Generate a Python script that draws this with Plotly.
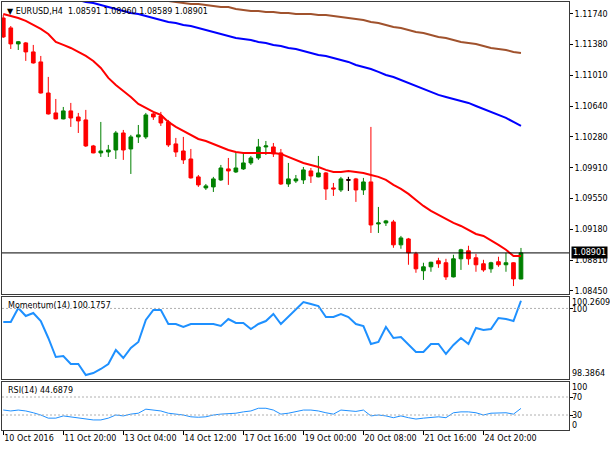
import plotly.graph_objects as go
from plotly.subplots import make_subplots

# H4 bar times (broker has a Sunday 20:00 bar)
session_days = ["10 Oct", "11 Oct", "12 Oct", "13 Oct", "14 Oct", "16 Oct", "17 Oct", "18 Oct",
                "19 Oct", "20 Oct", "21 Oct", "23 Oct", "24 Oct", "25 Oct"]
session_hours = [[12, 16, 20], [0, 4, 8, 12, 16, 20], [0, 4, 8, 12, 16, 20], [0, 4, 8, 12, 16, 20],
                 [0, 4, 8, 12, 16, 20], [20], [0, 4, 8, 12, 16, 20], [0, 4, 8, 12, 16, 20],
                 [0, 4, 8, 12, 16, 20], [0, 4, 8, 12, 16, 20], [0, 4, 8, 12, 16, 20], [20],
                 [0, 4, 8, 12, 16, 20], [0, 4, 8, 12, 16]]
times = [f"{d} {h:02d}:00" for d, hs in zip(session_days, session_hours) for h in hs]

tick_times = ["10 Oct 12:00", "11 Oct 20:00", "13 Oct 04:00", "14 Oct 12:00", "17 Oct 16:00",
              "19 Oct 00:00", "20 Oct 08:00", "21 Oct 16:00", "24 Oct 20:00"]
tick_labels = ["10 Oct 2016", "11 Oct 20:00", "13 Oct 04:00", "14 Oct 12:00", "17 Oct 16:00",
               "19 Oct 00:00", "20 Oct 08:00", "21 Oct 16:00", "24 Oct 20:00"]

opens = [1.11692, 1.11574, 1.11384, 1.11396, 1.11289, 1.11170, 1.10801, 1.10564, 1.10493, 1.10588,
         1.10516, 1.10481, 1.10172, 1.10089, 1.10100, 1.10124, 1.10326, 1.10136, 1.10279, 1.10279,
         1.10552, 1.10528, 1.10457, 1.10196, 1.10112, 1.10017, 1.09804, 1.09673, 1.09685, 1.09768,
         1.09899, 1.09863, 1.09899, 1.09970, 1.10029, 1.10160, 1.10160, 1.10089, 1.09720, 1.09756,
         1.09768, 1.09875, 1.09804, 1.09851, 1.09673, 1.09649, 1.09768, 1.09780, 1.09649, 1.09744,
         1.09245, 1.09257, 1.09269, 1.08997, 1.09067, 1.08890, 1.08689, 1.08736, 1.08807, 1.08784,
         1.08616, 1.08831, 1.08926, 1.08843, 1.08772, 1.08712, 1.08796, 1.08760, 1.08784, 1.08591]
highs = [1.11728, 1.11597, 1.11419, 1.11407, 1.11372, 1.11241, 1.10992, 1.10730, 1.10635, 1.10683,
         1.10564, 1.10600, 1.10184, 1.10457, 1.10184, 1.10350, 1.10362, 1.10303, 1.10421, 1.10564,
         1.10564, 1.10576, 1.10481, 1.10267, 1.10279, 1.10136, 1.09827, 1.09720, 1.09804, 1.09946,
         1.10029, 1.10089, 1.10089, 1.10053, 1.10255, 1.10231, 1.10207, 1.10136, 1.09970, 1.09827,
         1.09922, 1.09910, 1.10053, 1.09863, 1.09732, 1.09804, 1.09804, 1.09792, 1.09792, 1.10398,
         1.09447, 1.09293, 1.09293, 1.09103, 1.09079, 1.08914, 1.08784, 1.08796, 1.08843, 1.08831,
         1.08879, 1.08950, 1.08986, 1.08890, 1.08819, 1.08796, 1.08855, 1.08902, 1.08790, 1.08960]
lows = [1.11455, 1.11324, 1.11312, 1.11182, 1.11150, 1.10795, 1.10545, 1.10488, 1.10488, 1.10398,
        1.10326, 1.10160, 1.10085, 1.10041, 1.10041, 1.10017, 1.10006, 1.09839, 1.10207, 1.10255,
        1.10481, 1.10409, 1.10160, 1.10041, 1.09958, 1.09785, 1.09685, 1.09649, 1.09625, 1.09756,
        1.09709, 1.09851, 1.09887, 1.09946, 1.10006, 1.10065, 1.10041, 1.09709, 1.09685, 1.09732,
        1.09720, 1.09732, 1.09800, 1.09530, 1.09578, 1.09625, 1.09637, 1.09507, 1.09590, 1.09138,
        1.09138, 1.09221, 1.08962, 1.08950, 1.08760, 1.08665, 1.08580, 1.08677, 1.08724, 1.08580,
        1.08610, 1.08699, 1.08760, 1.08677, 1.08677, 1.08665, 1.08736, 1.08677, 1.08507, 1.08589]
closes = [1.11467, 1.11384, 1.11410, 1.11289, 1.11158, 1.10801, 1.10552, 1.10493, 1.10588, 1.10504,
          1.10469, 1.10172, 1.10089, 1.10112, 1.10124, 1.10326, 1.10124, 1.10279, 1.10303, 1.10540,
          1.10516, 1.10445, 1.10184, 1.10100, 1.10006, 1.09792, 1.09709, 1.09697, 1.09780, 1.09910,
          1.09875, 1.09910, 1.09970, 1.10029, 1.10160, 1.10172, 1.10077, 1.09720, 1.09780, 1.09780,
          1.09887, 1.09815, 1.09851, 1.09661, 1.09661, 1.09780, 1.09768, 1.09649, 1.09744, 1.09233,
          1.09257, 1.09281, 1.08997, 1.09079, 1.08902, 1.08712, 1.08736, 1.08790, 1.08772, 1.08616,
          1.08831, 1.08938, 1.08831, 1.08760, 1.08699, 1.08784, 1.08760, 1.08784, 1.08592, 1.08901]

ma_red = [1.11740, 1.11716, 1.11692, 1.11657, 1.11609, 1.11562, 1.11502, 1.11407, 1.11372, 1.11336,
          1.11289, 1.11241, 1.11182, 1.11098, 1.10980, 1.10896, 1.10825, 1.10754, 1.10671, 1.10623,
          1.10576, 1.10540, 1.10457, 1.10398, 1.10350, 1.10303, 1.10255, 1.10231, 1.10196, 1.10160,
          1.10124, 1.10100, 1.10089, 1.10089, 1.10089, 1.10089, 1.10089, 1.10077, 1.10041, 1.10006,
          1.09970, 1.09946, 1.09922, 1.09887, 1.09863, 1.09863, 1.09875, 1.09863, 1.09851, 1.09827,
          1.09804, 1.09768, 1.09709, 1.09661, 1.09602, 1.09530, 1.09459, 1.09400, 1.09352, 1.09305,
          1.09257, 1.09221, 1.09174, 1.09126, 1.09103, 1.09055, 1.08997, 1.08938, 1.08865, 1.08865]
ma_blue = [1.12132, 1.12108, 1.12084, 1.12060, 1.12037, 1.12013, 1.11989, 1.11965, 1.11942, 1.11918,
           1.11906, 1.11882, 1.11870, 1.11847, 1.11823, 1.11799, 1.11775, 1.11752, 1.11740, 1.11716,
           1.11692, 1.11669, 1.11645, 1.11633, 1.11609, 1.11597, 1.11574, 1.11550, 1.11526, 1.11502,
           1.11479, 1.11455, 1.11443, 1.11431, 1.11407, 1.11396, 1.11372, 1.11360, 1.11336, 1.11324,
           1.11300, 1.11276, 1.11253, 1.11241, 1.11217, 1.11193, 1.11170, 1.11134, 1.11110, 1.11086,
           1.11051, 1.11015, 1.10991, 1.10956, 1.10920, 1.10884, 1.10849, 1.10813, 1.10778, 1.10754,
           1.10730, 1.10706, 1.10683, 1.10647, 1.10611, 1.10576, 1.10540, 1.10505, 1.10457, 1.10410]
ma_brown = [1.12120, 1.12108, 1.12096, 1.12084, 1.12072, 1.12060, 1.12049, 1.12037, 1.12025, 1.12013,
            1.12001, 1.11989, 1.11977, 1.11965, 1.11954, 1.11942, 1.11942, 1.11930, 1.11918, 1.11918,
            1.11906, 1.11894, 1.11894, 1.11882, 1.11870, 1.11858, 1.11858, 1.11847, 1.11835, 1.11823,
            1.11823, 1.11799, 1.11787, 1.11775, 1.11775, 1.11764, 1.11764, 1.11752, 1.11752, 1.11740,
            1.11740, 1.11740, 1.11728, 1.11728, 1.11716, 1.11704, 1.11692, 1.11680, 1.11669, 1.11645,
            1.11633, 1.11609, 1.11585, 1.11574, 1.11550, 1.11526, 1.11514, 1.11490, 1.11467, 1.11455,
            1.11431, 1.11407, 1.11396, 1.11384, 1.11360, 1.11336, 1.11324, 1.11312, 1.11289, 1.11277]

momentum = [99.689, 99.689, 100.010, 99.826, 99.895, 99.712, 99.324, 98.889, 98.912, 98.729,
            98.729, 98.478, 98.523, 98.615, 98.729, 99.050, 98.866, 99.095, 99.232, 99.735,
            99.964, 99.964, 99.644, 99.644, 99.575, 99.644, 99.644, 99.644, 99.644, 99.598,
            99.758, 99.667, 99.667, 99.529, 99.644, 99.712, 99.872, 99.644, 99.804, 99.964,
            100.147, 100.101, 100.055, 99.804, 99.804, 99.872, 99.804, 99.644, 99.598, 99.187,
            99.232, 99.575, 99.324, 99.346, 99.164, 99.004, 99.004, 99.187, 99.187, 98.958,
            99.164, 99.324, 99.187, 99.552, 99.506, 99.529, 99.781, 99.758, 99.712, 100.1757]
rsi = [41.1, 39, 41, 39, 35, 30, 23, 23, 28, 26,
       24, 22, 19, 19, 23, 30, 28, 32, 34, 43,
       41, 39, 34, 32, 30, 26, 25, 26, 30, 32,
       33, 34, 37, 39, 45, 45, 41, 32, 34, 37,
       41, 41, 39, 35, 32, 41, 39, 38, 41, 28,
       30, 28, 24, 28, 24, 21, 23, 25, 26, 24,
       35, 37, 37, 35, 30, 34, 34, 35, 32, 44.6879]

price_ticks = [1.0845, 1.0881, 1.0918, 1.0955, 1.0991, 1.1028, 1.1064, 1.1101, 1.1138, 1.1174]
mom_scale = [98.3864, 100.2609]

FONT = "DejaVu Sans"
GREEN = "#008000"
RED = "#FF0000"
FRAME = "#3a3a3a"

fig = make_subplots(rows=3, cols=1, shared_xaxes=True, vertical_spacing=0.01)

fig.add_trace(go.Candlestick(
    x=times, open=opens, high=highs, low=lows, close=closes,
    increasing=dict(line=dict(color=GREEN, width=1), fillcolor=GREEN),
    decreasing=dict(line=dict(color=RED, width=1), fillcolor=RED),
    whiskerwidth=0, hoverinfo="skip", showlegend=False), row=1, col=1)

# doji bars are drawn black in the terminal
doji = [i for i in range(len(times)) if opens[i] == closes[i]]
fig.add_trace(go.Candlestick(
    x=[times[i] for i in doji], open=[opens[i] for i in doji], high=[highs[i] for i in doji],
    low=[lows[i] for i in doji], close=[closes[i] for i in doji],
    increasing=dict(line=dict(color="black", width=1), fillcolor="black"),
    decreasing=dict(line=dict(color="black", width=1), fillcolor="black"),
    whiskerwidth=0, hoverinfo="skip", showlegend=False), row=1, col=1)

for vals, col in [(ma_brown, "#A0522D"), (ma_blue, "#0000FF"), (ma_red, "#FF0000")]:
    fig.add_trace(go.Scatter(x=times, y=vals, mode="lines", line=dict(color=col, width=2),
                             hoverinfo="skip", showlegend=False), row=1, col=1)

fig.add_trace(go.Scatter(x=times, y=momentum, mode="lines", line=dict(color="#1E90FF", width=2),
                         hoverinfo="skip", showlegend=False), row=2, col=1)
fig.add_trace(go.Scatter(x=times, y=rsi, mode="lines", line=dict(color="#1E90FF", width=1),
                         hoverinfo="skip", showlegend=False), row=3, col=1)

# current price line and indicator levels
fig.add_shape(type="line", xref="x domain", x0=0, x1=1, yref="y", y0=closes[-1], y1=closes[-1],
              line=dict(color="black", width=1))
for yref, lvl in [("y2", 100), ("y3", 70), ("y3", 30)]:
    fig.add_shape(type="line", xref="x domain", x0=0, x1=1, yref=yref, y0=lvl, y1=lvl,
                  line=dict(color="#b0b0b0", width=1, dash="2px,2px"))

axis_font = dict(family=FONT, size=8, color="black")
xr = [-0.17, 75.4]
for i in (1, 2, 3):
    fig.update_xaxes(row=i, col=1, type="category", range=xr, showgrid=False, zeroline=False,
                     showline=True, mirror=True, linecolor=FRAME, linewidth=1,
                     rangeslider_visible=False, showticklabels=False, ticks="")
fig.update_xaxes(row=3, col=1, tickmode="array", tickvals=tick_times, ticktext=tick_labels,
                 showticklabels=True, ticks="outside", ticklen=4, tickcolor="black",
                 tickangle=0, ticklabelposition="outside right", tickfont=axis_font)

fig.update_yaxes(row=1, col=1, side="right", range=[1.08413, 1.11882], tickmode="array",
                 tickvals=price_ticks, tickformat=".5f", ticks="outside", ticklen=3,
                 tickcolor="black", tickfont=axis_font, showgrid=False, zeroline=False,
                 showline=True, mirror=True, linecolor=FRAME, linewidth=1)
fig.update_yaxes(row=2, col=1, side="right", range=mom_scale, tickmode="array",
                 tickvals=[100], ticks="outside", ticklen=3, tickcolor="black",
                 showticklabels=False, showgrid=False, zeroline=False,
                 showline=True, mirror=True, linecolor=FRAME, linewidth=1)
fig.update_yaxes(row=3, col=1, side="right", range=[-3.33, 103.33], tickmode="array",
                 tickvals=[30, 70], ticks="outside", ticklen=3, tickcolor="black",
                 showticklabels=False, showgrid=False, zeroline=False,
                 showline=True, mirror=True, linecolor=FRAME, linewidth=1)

fig.update_layout(
    width=610, height=450,
    margin=dict(l=2, r=41, t=2, b=20),
    paper_bgcolor="white", plot_bgcolor="white",
    font=dict(family=FONT, size=8, color="black"),
    yaxis=dict(domain=[0.3178, 1.0]),
    yaxis2=dict(domain=[0.1192, 0.3107]),
    yaxis3=dict(domain=[0.0, 0.1121]),
    boxgap=0.3,
)

# text overlays
fig.add_annotation(xref="x domain", yref="y domain", x=0, y=1, xanchor="left", yanchor="top",
                   xshift=3, yshift=-3, showarrow=False, font=axis_font,
                   text=f"▼ EURUSD,H4  {opens[-1]:.5f} {highs[-1]:.5f} {lows[-1]:.5f} {closes[-1]:.5f}")
fig.add_annotation(xref="x2 domain", yref="y2 domain", x=0, y=1, xanchor="left", yanchor="top",
                   xshift=4, yshift=-2, showarrow=False, font=axis_font,
                   text=f"Momentum(14) {momentum[-1]:.4f}")
fig.add_annotation(xref="x3 domain", yref="y3 domain", x=0, y=1, xanchor="left", yanchor="top",
                   xshift=4, yshift=-2, showarrow=False, font=axis_font,
                   text=f"RSI(14) {rsi[-1]:.4f}")

# current price tag
fig.add_annotation(xref="x domain", yref="y", x=1, y=closes[-1], xanchor="left", yanchor="middle",
                   xshift=2, showarrow=False, bgcolor="black", borderpad=1,
                   font=dict(family=FONT, size=8, color="white"), text=f"{closes[-1]:.5f}")

# indicator scale labels
side_labels = [("y2", mom_scale[1], "100.2609", "top", 0), ("y2", 100, "100", "middle", -1),
               ("y2", mom_scale[0], "98.3864", "bottom", 0),
               ("y3", 100, "100", "top", 2), ("y3", 70, "70", "middle", 0),
               ("y3", 30, "30", "middle", 0), ("y3", 0, "0", "bottom", -2)]
for yref, val, txt, anc, dy in side_labels:
    fig.add_annotation(xref="x domain", yref=yref, x=1, y=val, xanchor="left", yanchor=anc,
                       xshift=2, yshift=dy, borderpad=0, showarrow=False, font=axis_font, text=txt)

fig.write_html("out.html", config={"displayModeBar": False},
               post_script="document.body.style.margin='0';")
